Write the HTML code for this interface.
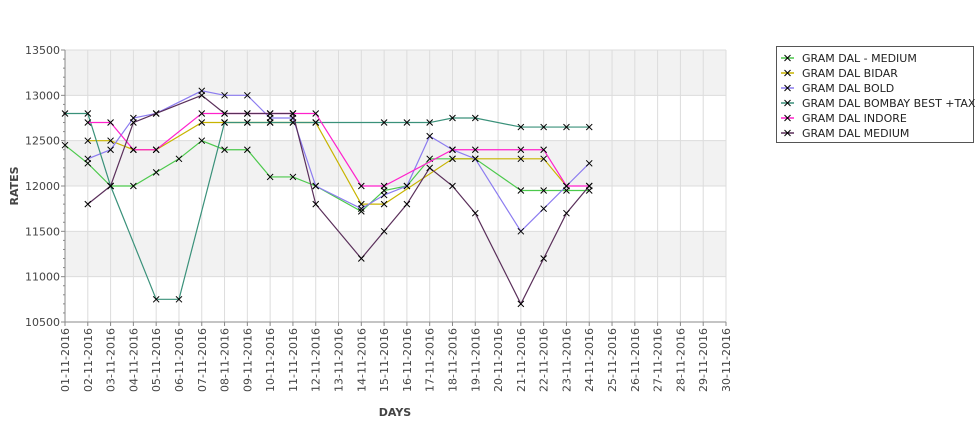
<!DOCTYPE html>
<html><head><meta charset="utf-8"><style>
body{margin:0;background:#fff;font-family:"Liberation Sans",sans-serif;}
svg text{font-family:"DejaVu Sans","Liberation Sans",sans-serif;}
</style></head><body>
<svg id="chart" width="975" height="429" xmlns="http://www.w3.org/2000/svg">
<g id="bands"></g><g id="grid"></g><g id="axes"></g><g id="series"></g>
<text x="395" y="416" font-size="11" font-weight="bold" fill="#444" text-anchor="middle">DAYS</text>
<text transform="translate(18,186) rotate(-90)" font-size="11" font-weight="bold" fill="#444" text-anchor="middle">RATES</text>
<g id="legend"></g>
</svg>
<script>
const days = Array.from({length:30},(_,i)=>String(i+1).padStart(2,'0')+'-11-2016');
const yTicks = [10500,11000,11500,12000,12500,13000,13500];
const seriesNames = ["GRAM DAL - MEDIUM","GRAM DAL BIDAR","GRAM DAL BOLD","GRAM DAL BOMBAY BEST +TAX","GRAM DAL INDORE","GRAM DAL MEDIUM"];
const seriesColors = ["#4cc94c","#c8b400","#8c7cf0","#3a917a","#ff22cc","#5a2f5a"];
const sMedium = [12450,12250,12000,12000,12150,12300,12500,12400,12400,12100,12100,12000,null,11720,11950,12000,12300,12300,12300,null,11950,11950,11950,11950];
const sBidar = [null,12500,12500,12400,12400,null,12700,12700,12700,12700,12700,12700,null,11800,11800,null,null,12300,12300,null,12300,12300,12000];
const sBold = [null,12300,12400,12750,12800,null,13050,13000,13000,12750,12750,12000,null,11750,11900,12000,12550,12400,12300,null,11500,11750,12000,12250];
const sBombay = [12800,12800,12000,null,10750,10750,null,12700,12700,12700,12700,12700,null,null,12700,12700,12700,12750,12750,null,12650,12650,12650,12650];
const sIndore = [null,12700,12700,12400,12400,null,12800,12800,12800,12800,12800,12800,null,12000,12000,null,null,12400,12400,null,12400,12400,12000,12000];
const sMediumDark = [null,11800,12000,12700,12800,null,13000,12800,12800,12800,12800,11800,null,11200,11500,11800,12200,12000,11700,null,10700,11200,11700,12000];
const allSeries = [sMedium,sBidar,sBold,sBombay,sIndore,sMediumDark];

const X0=65,X1=726,Y0=322,Y1=50,VMIN=10500,VMAX=13500;
const xs=i=>X0+i*(X1-X0)/(days.length-1);
const ys=v=>Y0-(v-VMIN)*(Y0-Y1)/(VMAX-VMIN);
const NS="http://www.w3.org/2000/svg";
function mk(tag,attrs,parent){const e=document.createElementNS(NS,tag);for(const k in attrs)e.setAttribute(k,attrs[k]);parent.appendChild(e);return e;}
const bands=document.getElementById('bands'),grid=document.getElementById('grid'),axes=document.getElementById('axes'),ser=document.getElementById('series'),leg=document.getElementById('legend');
for(let i=0;i<yTicks.length-1;i++){
  if((yTicks.length-2-i)%2===0){const r=mk('rect',{x:X0,y:ys(yTicks[i+1]),width:X1-X0,height:ys(yTicks[i])-ys(yTicks[i+1]),fill:'#f2f2f2'},bands);
  
  }
}
yTicks.forEach(v=>{
  const l=mk('line',{x1:X0,x2:X1,y1:ys(v),y2:ys(v),stroke:'#dcdcdc'},grid);
  
  
  const t=mk('text',{x:X0-5,y:ys(v)+4,'font-size':11,fill:'#444','text-anchor':'end'},axes);t.textContent=v;
  
  
});
for(let v=VMIN;v<=VMAX;v+=100){const m=mk('line',{x1:v%500===0?X0-4:X0-2,x2:X0,y1:ys(v),y2:ys(v),stroke:'#888'},axes);
  
  }
days.forEach((d,i)=>{
  const l=mk('line',{x1:xs(i),x2:xs(i),y1:Y1,y2:Y0,stroke:'#dcdcdc'},grid);
  
  
  const tk=mk('line',{x1:xs(i),x2:xs(i),y1:Y0,y2:Y0+4,stroke:'#888'},axes);
  
  
  const t=mk('text',{transform:`translate(${xs(i)+4},${Y0+6}) rotate(-90)`,'font-size':11,fill:'#444','text-anchor':'end'},axes);t.textContent=d;
  
  
});
const ax1=mk('line',{x1:X0,x2:X0,y1:Y1,y2:Y0,stroke:'#888'},axes);


const ax2=mk('line',{x1:X0,x2:X1,y1:Y0,y2:Y0,stroke:'#888'},axes);


function cross(x,y,c,p){const g=mk('path',{d:`M${x-3},${y-3}L${x+3},${y+3}M${x-3},${y+3}L${x+3},${y-3}`,stroke:c,'stroke-width':1},p);return g;}
allSeries.forEach((s,si)=>{
  const g=mk('g',{},ser);
  
  
  const pts=[];s.forEach((v,i)=>{if(v!=null)pts.push([xs(i),ys(v)]);});
  const pl=mk('polyline',{points:pts.map(p=>p.join(',')).join(' '),fill:'none',stroke:seriesColors[si],'stroke-width':1.2},g);
  
  
  pts.forEach(p=>{const c=cross(p[0],p[1],'#000',g);
    
    });
});
const lb=mk('rect',{x:776.5,y:46.5,width:197,height:96,fill:'#fff',stroke:'#555'},leg);


seriesNames.forEach((n,i)=>{
  const y=58+i*15;
  const g=mk('g',{},leg);
  
  
  mk('line',{x1:781,x2:794,y1:y,y2:y,stroke:seriesColors[i],'stroke-width':1.5},g);
  cross(787.5,y,'#000',g);
  const t=mk('text',{x:802,y:y+4,'font-size':11,fill:'#222'},g);t.textContent=n;
  
  
});
</script>
</body></html>
